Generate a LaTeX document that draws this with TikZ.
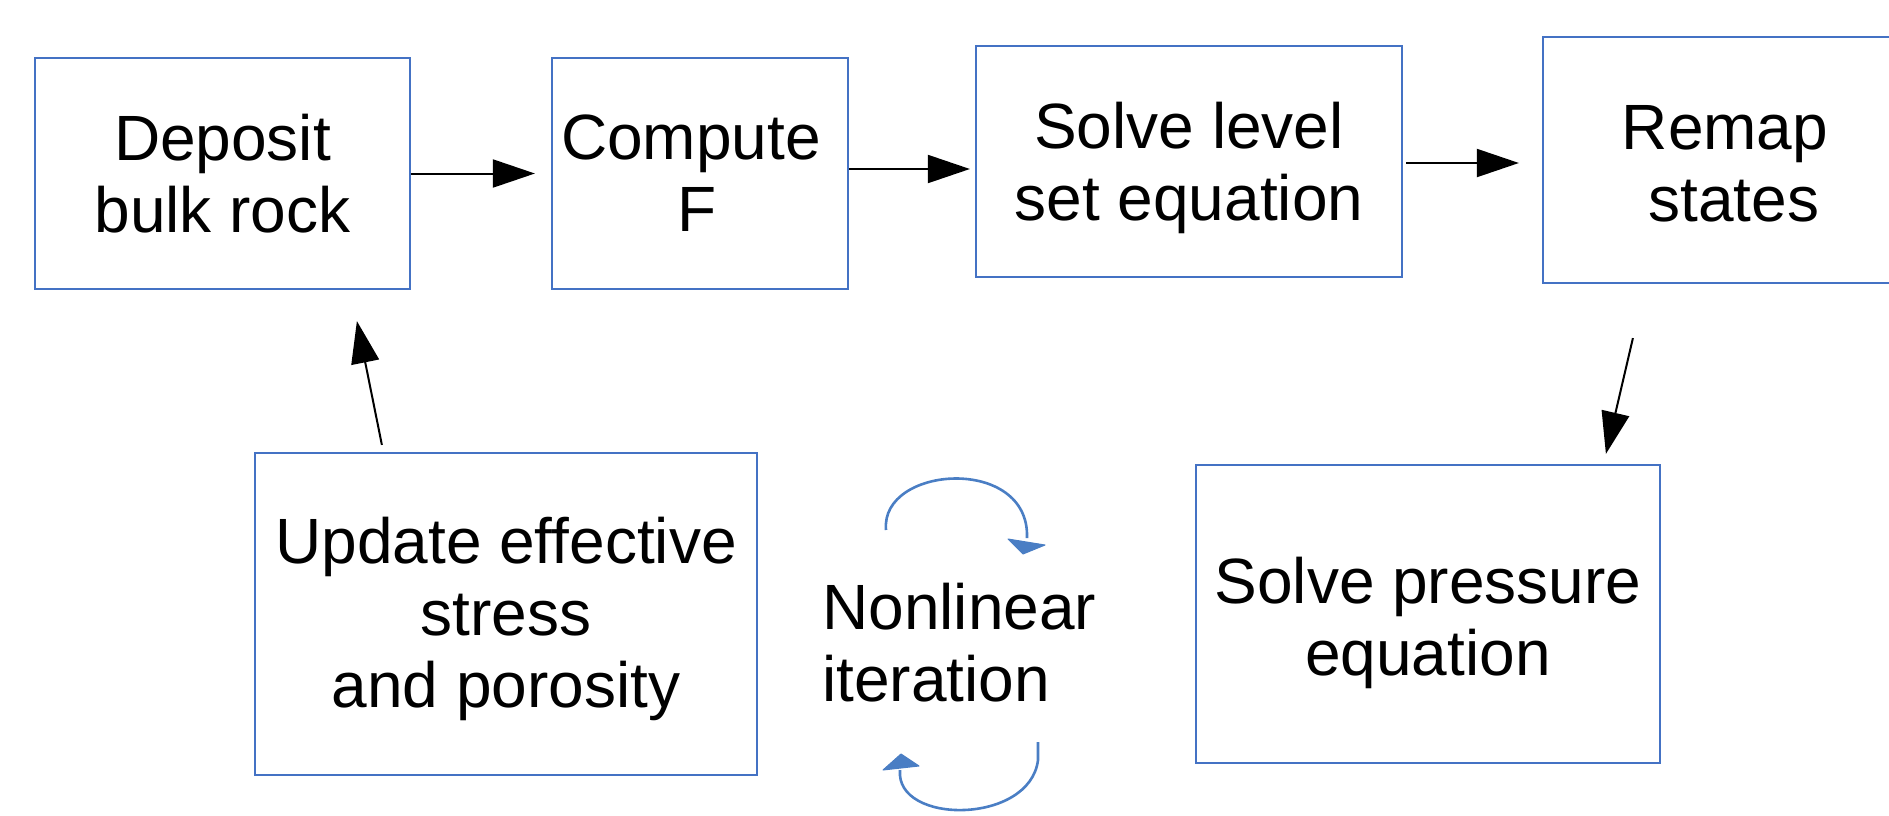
\documentclass[tikz,border=0pt]{standalone}
\usepackage{fontspec}
\setmainfont{Liberation Sans}
\usetikzlibrary{arrows.meta,calc}
\definecolor{boxblue}{RGB}{68,114,196}
\definecolor{arcblue}{RGB}{74,126,196}
\newcommand\dropby[1]{\rule{0pt}{\dimexpr 46.5pt+#1+#1\relax}}
\tikzset{
  stepbox/.style={draw=boxblue, line width=2.2pt, inner sep=0pt, align=center,
    font=\fontsize{64}{72}\selectfont},
  arr/.style={draw=black, line width=2pt, -{Triangle[length=42pt,width=28pt]}},
  loopline/.style={draw=arcblue, line width=2.6pt},
  loophead/.style={fill=arcblue, draw=arcblue, line width=1pt, line join=round},
}
\begin{document}
\begin{tikzpicture}[x=1pt,y=-1pt]
\useasboundingbox (0,0) rectangle (1889,815);
\node[stepbox, minimum width=375pt, minimum height=231pt] (deposit) at (222.5,173.5) {Deposit\\bulk rock};
\node[stepbox, minimum width=296pt, minimum height=231pt] (compute) at (700,173.5) {Compute\hspace*{0.28em}\\F\hspace*{0.1em}};
\node[stepbox, minimum width=426pt, minimum height=231pt] (solve) at (1189,161.5) {\dropby{6pt}Solve level\\set equation};
\node[stepbox, minimum width=364pt, minimum height=246pt] (remap) at (1725,160) {\dropby{3pt}Remap\\\hspace*{0.28em}states};
\node[stepbox, minimum width=502pt, minimum height=322pt] (update) at (506,614) {\dropby{5pt}Update effective\\stress\\and porosity};
\node[stepbox, minimum width=464pt, minimum height=298pt] (pressure) at (1428,614) {\dropby{9pt}Solve pressure\\equation};
\node[align=left, inner sep=0pt, anchor=west, font=\fontsize{64}{72}\selectfont] (nonlin) at (822,643) {Nonlinear\\iteration};

\draw[arr, shorten >=16pt] (deposit.east) -- (deposit.east -| compute.west);
\draw[arr, shorten >=5pt] ([yshift=4.5pt]compute.east) -- ([yshift=4.5pt]compute.east -| solve.west);
\draw[arr, shorten <=3pt, shorten >=23pt] ([yshift=-1.5pt]solve.east) -- ([yshift=-1.5pt]solve.east -| remap.west);
\draw[arr] ($(remap.south west)+(91,54)$) -- ($(pressure.north west)+(411,-10)$);
\draw[arr] ($(update.north west)+(128,-7)$) -- ($(deposit.south west)+(323,31)$);

% nonlinear iteration loop arrows
\draw[loopline] (886,530) .. controls (880,465) and (1030,455) .. (1027,538);
\filldraw[loophead] (1008,539) -- (1045,545) -- (1023,554) -- cycle;
\draw[loopline] (1038,742) -- (1038,760) .. controls (1030,825) and (895,825) .. (900,770);
\filldraw[loophead] (883,770) -- (901,754) -- (919,766) -- cycle;
\end{tikzpicture}
\end{document}
